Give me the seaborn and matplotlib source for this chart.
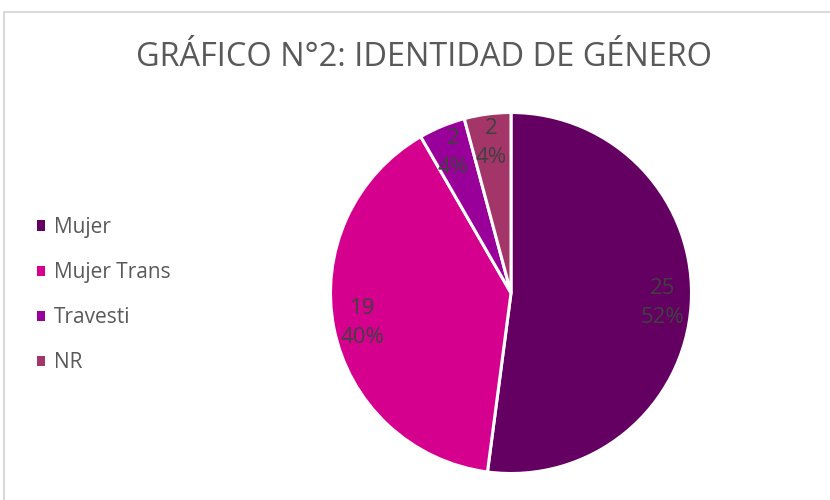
import matplotlib
matplotlib.use("Agg")
import matplotlib.pyplot as plt
import seaborn as sns
from matplotlib.patches import Rectangle

categories = ["Mujer", "Mujer Trans", "Travesti", "NR"]
values = [25, 19, 2, 2]
percent_labels = ["52%", "40%", "4%", "4%"]
title_text = "GRÁFICO N°2: IDENTIDAD DE GÉNERO"

sns.set_theme(style="white")
plt.rcParams["font.family"] = ["Open Sans", "DejaVu Sans"]
colors = ["#630062", "#D6008F", "#990099", "#A33568"]

W, H = 830, 500
fig = plt.figure(figsize=(W / 100, H / 100), dpi=100)

# chart border (top and left visible)
fig.add_artist(Rectangle((4 / W, -0.1), 1.2, (H - 11.5) / H + 0.1, transform=fig.transFigure,
                         fill=False, edgecolor="#D9D9D9", linewidth=1.5))

cx, cy, r = 511, 293, 180.5
ax = fig.add_axes([(cx - r) / W, (H - cy - r) / H, 2 * r / W, 2 * r / H])
labels_txt = [f"{v}\n{p}" for v, p in zip(values, percent_labels)]
wedges, texts = ax.pie(values, colors=colors, startangle=90, counterclock=False,
                       labels=labels_txt, labeldistance=0.84,
                       wedgeprops=dict(edgecolor="white", linewidth=2.2),
                       textprops=dict(color="#404040", fontsize=16, ha="center", va="center",
                                      linespacing=1.5))
ax.set_xlim(-1, 1)
ax.set_ylim(-1, 1)
ax.set_aspect("equal")
ax.axis("off")

fig.text(424 / W, 1 - 57 / H, title_text, ha="center", va="center",
         fontsize=23.4, color="#595959")

handles = [Rectangle((0, 0), 1, 1, facecolor=c, edgecolor="none") for c in colors]
fig.legend(handles, categories, loc="upper left", bbox_to_anchor=(37 / W, 1 - 217 / H),
           frameon=False, fontsize=15, labelcolor="#595959", handlelength=0.38,
           handleheight=0.38, handletextpad=0.45, labelspacing=1.16,
           borderpad=0, borderaxespad=0)

fig.savefig("out.png", dpi=100, facecolor="white")
